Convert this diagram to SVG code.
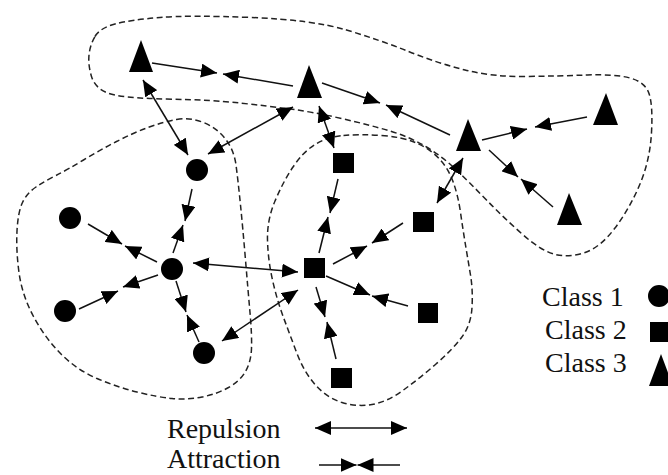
<svg xmlns="http://www.w3.org/2000/svg" width="668" height="475" viewBox="0 0 668 475">
<style>
.bd{fill:none;stroke:#222;stroke-width:1.5;stroke-dasharray:6 3.5}
.ln{stroke:#111;stroke-width:1.5;fill:none}
.rep{marker-start:url(#ah2);marker-end:url(#ah2)}
.att{marker-end:url(#ah)}
.nd{fill:#000}
text{font-family:"Liberation Serif","Times New Roman",serif;font-size:28px;fill:#111}
</style>
<defs>
<marker id="ah" viewBox="0 0 16 14" refX="16" refY="7" markerWidth="16" markerHeight="14" markerUnits="userSpaceOnUse" orient="auto"><path d="M0,0 L16,7 L0,14 Z" fill="#000"/></marker>
<marker id="ah2" viewBox="0 0 16 14" refX="16" refY="7" markerWidth="16" markerHeight="14" markerUnits="userSpaceOnUse" orient="auto-start-reverse"><path d="M0,0 L16,7 L0,14 Z" fill="#000"/></marker>
</defs>
<g id="boundaries">
<path id="region-class3" class="bd" d="M95,36.5 Q100,28 115,24 Q130,20 160,17.5 Q190,15 251.5,17.5 Q313,20 346.5,30 Q380,40 408.5,51.5 Q437,63 465,70 Q493,77 526.5,76.5 Q560,76 587.5,75 Q615,74 630,78 Q645,82 649,93.5 Q653,105 651.5,132.5 Q650,160 640,184 Q630,208 615,228 Q600,248 583.5,253 Q567,258 553.5,254 Q540,250 521.5,233.5 Q503,217 486.5,200 Q470,183 456.5,170 Q443,157 426.5,147 Q410,137 390,131 Q370,125 341.5,118.5 Q313,112 290,109 Q267,106 240,103 Q213,100 166.5,99 Q120,98 107.5,93 Q95,88 91.5,76.5 Q88,65 89,55 Q90,45 95,36.5 Z"/>
<path id="region-class1" class="bd" d="M176.5,119.5 Q190,117 203.5,122.5 Q217,128 225.5,139 Q234,150 236,165 Q238,180 240.5,205 Q243,230 245.5,260 Q248,290 250,312.5 Q252,335 251.5,348.5 Q251,362 245.5,371.5 Q240,381 228.5,387.5 Q217,394 202,397 Q187,400 172,398.5 Q157,397 137,392 Q117,387 97,378.5 Q77,370 61,354 Q45,338 33.5,316.5 Q22,295 19,272.5 Q16,250 17,231 Q18,212 22.5,202.5 Q27,193 36,187 Q45,181 56,175.5 Q67,170 83.5,160 Q100,150 116.5,141.5 Q133,133 148,127.5 Q163,122 176.5,119.5 Z"/>
<path id="region-class2" class="bd" d="M343.5,135.5 Q360,134 381.5,135.5 Q403,137 416.5,143 Q430,149 439,158.5 Q448,168 453,181.5 Q458,195 460.5,212.5 Q463,230 465.5,245 Q468,260 470.5,275 Q473,290 472,307.5 Q471,325 461.5,337.5 Q452,350 436,364 Q420,378 403.5,390 Q387,402 372,404.5 Q357,407 342,402.5 Q327,398 315.5,385 Q304,372 297,353.5 Q290,335 283.5,317.5 Q277,300 272.5,280 Q268,260 267.5,240 Q267,220 275,201 Q283,182 293,167 Q303,152 315,144.5 Q327,137 343.5,135.5 Z"/>
</g>
<g id="connectors">
<line class="ln rep" x1="143" y1="80" x2="188" y2="155"/>
<line class="ln rep" x1="208" y1="154" x2="293" y2="107"/>
<line class="ln rep" x1="319" y1="106" x2="334" y2="148"/>
<line class="ln rep" x1="437" y1="203" x2="463" y2="158"/>
<line class="ln rep" x1="193" y1="263" x2="298" y2="272"/>
<line class="ln rep" x1="298" y1="290" x2="222" y2="341"/>
<line class="ln att" x1="152" y1="63" x2="217" y2="73"/>
<line class="ln att" x1="293" y1="86" x2="223" y2="74"/>
<line class="ln att" x1="322" y1="83" x2="380" y2="103"/>
<line class="ln att" x1="450" y1="135" x2="386" y2="105"/>
<line class="ln att" x1="482" y1="140" x2="527" y2="129"/>
<line class="ln att" x1="587" y1="117" x2="535" y2="127"/>
<line class="ln att" x1="489" y1="150" x2="518" y2="177"/>
<line class="ln att" x1="553" y1="207" x2="521" y2="179"/>
<line class="ln att" x1="192" y1="189" x2="185" y2="221"/>
<line class="ln att" x1="173" y1="253" x2="183" y2="225"/>
<line class="ln att" x1="88" y1="224" x2="122" y2="244"/>
<line class="ln att" x1="157" y1="262" x2="125" y2="246"/>
<line class="ln att" x1="79" y1="309" x2="118" y2="291"/>
<line class="ln att" x1="158" y1="275" x2="123" y2="287"/>
<line class="ln att" x1="176" y1="281" x2="186" y2="312"/>
<line class="ln att" x1="199" y1="342" x2="187" y2="315"/>
<line class="ln att" x1="338" y1="179" x2="330" y2="213"/>
<line class="ln att" x1="319" y1="253" x2="328" y2="217"/>
<line class="ln att" x1="403" y1="223" x2="372" y2="243"/>
<line class="ln att" x1="333" y1="264" x2="367" y2="246"/>
<line class="ln att" x1="326" y1="276" x2="370" y2="295"/>
<line class="ln att" x1="408" y1="306" x2="372" y2="296"/>
<line class="ln att" x1="316" y1="287" x2="325" y2="317"/>
<line class="ln att" x1="336" y1="359" x2="327" y2="322"/>
</g>
<g id="node-t1"><polygon class="nd" points="141,40 153,72 129,72"/></g>
<g id="node-t2"><polygon class="nd" points="309,65 322,98 297,98"/></g>
<g id="node-t3"><polygon class="nd" points="468,119 481,151 456,151"/></g>
<g id="node-t4"><polygon class="nd" points="606,93 618,125 593,125"/></g>
<g id="node-t5"><polygon class="nd" points="569,193 582,225 557,225"/></g>
<g id="node-c1"><circle class="nd" cx="197" cy="170" r="11"/></g>
<g id="node-c2"><circle class="nd" cx="70" cy="218" r="11"/></g>
<g id="node-c3"><circle class="nd" cx="172" cy="269" r="11"/></g>
<g id="node-c4"><circle class="nd" cx="65" cy="311" r="11"/></g>
<g id="node-c5"><circle class="nd" cx="204" cy="353" r="11"/></g>
<g id="node-s1"><rect class="nd" x="333" y="153" width="21" height="20"/></g>
<g id="node-s2"><rect class="nd" x="304" y="258" width="21" height="20"/></g>
<g id="node-s3"><rect class="nd" x="413" y="212" width="21" height="20"/></g>
<g id="node-s4"><rect class="nd" x="418" y="303" width="20" height="20"/></g>
<g id="node-s5"><rect class="nd" x="331" y="368" width="21" height="20"/></g>
<g id="legend">
<text x="542" y="306">Class 1</text>
<text x="545" y="339">Class 2</text>
<text x="545" y="372">Class 3</text>
<circle class="nd" cx="659" cy="296" r="11"/>
<rect class="nd" x="650" y="322" width="20" height="20"/>
<polygon class="nd" points="661,354 673,386 649,386"/>
<text x="167" y="438">Repulsion</text>
<text x="167" y="468">Attraction</text>
<line class="ln rep" x1="315" y1="428" x2="407" y2="428"/>
<line class="ln att" x1="319" y1="465" x2="356.5" y2="465"/>
<line class="ln att" x1="400" y1="465" x2="357.5" y2="465"/>
</g>
</svg>
